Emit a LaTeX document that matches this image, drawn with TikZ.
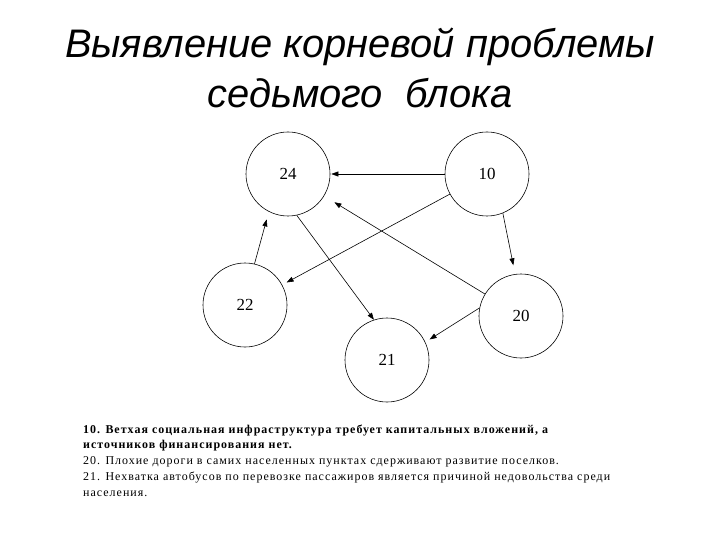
\documentclass[tikz,border=0pt]{standalone}
\usepackage{fontspec}
\setmainfont{Liberation Serif}
\newfontfamily\titlefont{Liberation Sans}
\newfontfamily\legendfont[LetterSpace=8.5]{Liberation Serif}
\usepackage{tikz}
\usetikzlibrary{arrows.meta}

\begin{document}
\begin{tikzpicture}[x=1bp, y=-1bp,
  block/.style={circle, draw, line width=0.6pt, minimum size=84bp, inner sep=0pt, font=\fontsize{17}{17}\selectfont},
  link/.style={line width=0.6pt, -{Triangle[length=7bp,width=5bp]}},
  headline/.style={anchor=base, font=\titlefont\itshape\fontsize{40}{40}\selectfont}]
\useasboundingbox (0,0) rectangle (720,540);
% Title
\node[headline] (title1) at (360,58) {Выявление корневой проблемы};
\node[headline] (title2) at (360,108) {седьмого\ \ блока};
% Circles
\node[block] (n24) at (288,174) {24};
\node[block] (n10) at (487,174) {10};
\node[block] (n22) at (245,305) {22};
\node[block] (n20) at (521,316) {20};
\node[block] (n21) at (387,360) {21};
% Arrows
\draw[link, shorten >=1bp] (n10) -- (n24);
\draw[link, shorten >=5bp] (n10) -- (n22);
\draw[link, shorten >=9bp] (n10.-68) -- (n20.98);
\draw[link, shorten >=12bp] (n20) -- (n24);
\draw[link, shorten >=5bp] (n20.169) -- (n21.25);
\draw[link] (n24.-78) -- (n21.108);
\draw[link, shorten >=8bp] (n22.77) -- (n24.-117);
% Legend
\node[anchor=base west, align=left, inner sep=0pt, font=\legendfont\fontsize{12}{15.75}\selectfont] (legend) at (83,496)
  {\textbf{10. Ветхая социальная инфраструктура требует капитальных вложений, а}\\
   \textbf{источников финансирования нет.}\\
   20. Плохие дороги в самих населенных пунктах сдерживают развитие поселков.\\
   21. Нехватка автобусов по перевозке пассажиров является причиной недовольства среди\\
   населения.};
\end{tikzpicture}
\end{document}
